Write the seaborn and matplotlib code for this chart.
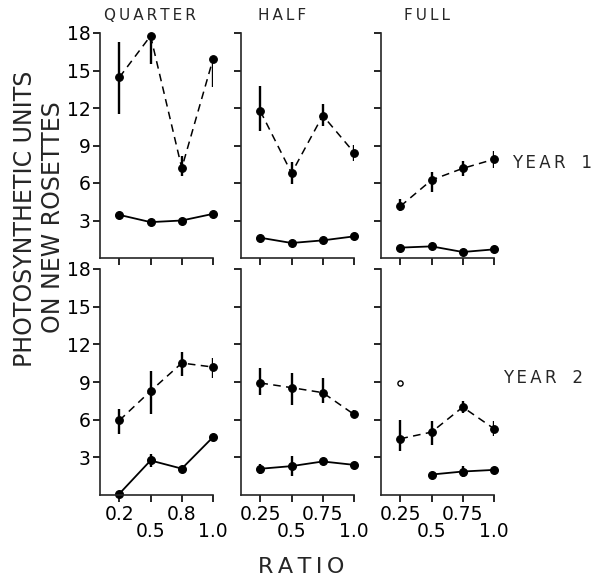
import numpy as np
import pandas as pd
import matplotlib
matplotlib.use("Agg")
import matplotlib.pyplot as plt
import seaborn as sns

# ---------------- data ----------------
col_titles = ["QUARTER", "HALF", "FULL"]
row_titles = ["YEAR 1", "YEAR 2"]
ratio_quarter = ["0.2", "0.5", "0.8", "1.0"]
ratio_half = ["0.25", "0.5", "0.75", "1.0"]
ratio_full = ["0.25", "0.5", "0.75", "1.0"]
y_ticks = [3, 6, 9, 12, 15, 18]

# Year 1 (dashed = upper series, solid = lower series)
y1_quarter_dash = [14.45, 17.77, 7.19, 15.9]
y1_quarter_dash_lo = [11.5, 15.5, 6.6, 13.7]
y1_quarter_dash_hi = [17.3, 17.77, 8.2, 15.9]
y1_quarter_solid = [3.45, 2.87, 3.0, 3.53]

y1_half_dash = [11.75, 6.79, 11.4, 8.44]
y1_half_dash_lo = [10.2, 5.9, 10.6, 7.8]
y1_half_dash_hi = [13.8, 7.7, 12.3, 9.05]
y1_half_solid = [1.62, 1.2, 1.41, 1.73]

y1_full_dash = [4.14, 6.24, 7.17, 7.9]
y1_full_dash_lo = [3.8, 5.26, 6.6, 7.2]
y1_full_dash_hi = [4.7, 6.9, 7.8, 8.57]
y1_full_solid = [0.83, 0.93, 0.48, 0.69]

# Year 2
y2_quarter_dash = [5.94, 8.28, 10.51, 10.19]
y2_quarter_dash_lo = [4.82, 6.47, 9.5, 9.3]
y2_quarter_dash_hi = [6.87, 9.85, 11.4, 10.94]
y2_quarter_solid = [0.1, 2.75, 2.1, 4.61]
y2_quarter_solid_lo = [np.nan, 2.2, np.nan, np.nan]
y2_quarter_solid_hi = [np.nan, 3.3, np.nan, np.nan]

y2_half_dash = [8.92, 8.55, 8.15, 6.42]
y2_half_dash_lo = [8.0, 7.2, 7.35, 6.1]
y2_half_dash_hi = [10.1, 9.7, 9.3, 6.8]
y2_half_solid = [2.09, 2.3, 2.67, 2.4]
y2_half_solid_lo = [1.7, 1.5, np.nan, np.nan]
y2_half_solid_hi = [2.5, 3.1, np.nan, np.nan]

y2_full_dash = [4.48, 5.01, 7.0, 5.28]
y2_full_dash_lo = [3.5, 4.0, 6.5, 4.7]
y2_full_dash_hi = [5.94, 5.9, 7.5, 5.9]
y2_full_solid = [np.nan, 1.63, 1.87, 2.0]
y2_full_solid_lo = [np.nan, np.nan, 1.45, np.nan]
y2_full_solid_hi = [np.nan, np.nan, 2.3, np.nan]
y2_full_open_ratio = "0.25"
y2_full_open_value = 8.92

# ---------------- style ----------------
sns.set_style("ticks")
plt.rcParams["font.family"] = ["DejaVu Sans"]
plt.rcParams["axes.linewidth"] = 1.2

fig = plt.figure(figsize=(5.94, 5.81), dpi=100)

W, H = 594.0, 581.0
lefts = [100, 241, 381]
width = 113
row_top = [33, 269]
row_bottom = [258, 495]

panels = [
    # row 0
    [(ratio_quarter, y1_quarter_dash, y1_quarter_dash_lo, y1_quarter_dash_hi, y1_quarter_solid, None, None),
     (ratio_half, y1_half_dash, y1_half_dash_lo, y1_half_dash_hi, y1_half_solid, None, None),
     (ratio_full, y1_full_dash, y1_full_dash_lo, y1_full_dash_hi, y1_full_solid, None, None)],
    # row 1
    [(ratio_quarter, y2_quarter_dash, y2_quarter_dash_lo, y2_quarter_dash_hi, y2_quarter_solid, y2_quarter_solid_lo, y2_quarter_solid_hi),
     (ratio_half, y2_half_dash, y2_half_dash_lo, y2_half_dash_hi, y2_half_solid, y2_half_solid_lo, y2_half_solid_hi),
     (ratio_full, y2_full_dash, y2_full_dash_lo, y2_full_dash_hi, y2_full_solid, y2_full_solid_lo, y2_full_solid_hi)],
]

def sp(s):
    return "\u2009".join(list(s))

for r in range(2):
    for c in range(3):
        ratios, dash, dlo, dhi, solid, slo, shi = panels[r][c]
        ax = fig.add_axes([lefts[c] / W, 1 - row_bottom[r] / H, width / W,
                           (row_bottom[r] - row_top[r]) / H])
        df_d = pd.DataFrame({"ratio": ratios, "value": dash}).dropna()
        df_s = pd.DataFrame({"ratio": ratios, "value": solid}).dropna()
        sns.pointplot(data=df_d, x="ratio", y="value", order=ratios, color="black",
                      errorbar=None, ax=ax, linestyle=(0, (5, 3.5)), marker="o",
                      markersize=5.5, linewidth=1.1)
        sns.pointplot(data=df_s, x="ratio", y="value", order=ratios, color="black",
                      errorbar=None, ax=ax, linestyle="-", marker="o",
                      markersize=5.5, linewidth=1.3)
        for ln in ax.lines:
            ln.set_clip_on(False)
        pos = np.arange(len(ratios))
        ax.vlines(pos, dlo, dhi, color="black", linewidth=1.7)
        if slo is not None:
            ax.vlines(pos, slo, shi, color="black", linewidth=1.7)
        if r == 1 and c == 2:
            ax.scatter([ratios.index(y2_full_open_ratio)], [y2_full_open_value], s=14,
                       facecolor="white", edgecolor="black", linewidth=1.0, zorder=5)

        ax.set_ylim(0, 18)
        ax.set_xlim(-0.62, 3.0)
        ax.set_yticks(y_ticks)
        ax.set_yticklabels([str(t) for t in y_ticks])
        ax.set_xticks(pos)
        ax.set_xticklabels(ratios)
        ax.set_xlabel("")
        ax.set_ylabel("")
        sns.despine(ax=ax)
        ax.tick_params(direction="out", length=5, width=1.2, labelsize=13.5, pad=2,
                       colors="black")
        # staggered x tick labels: every second label one line lower
        for i, tick in enumerate(ax.xaxis.get_major_ticks()):
            tick.set_pad(2 if i % 2 == 0 else 14.5)
        if c != 0:
            ax.tick_params(labelleft=False)
        if r == 0:
            ax.tick_params(labelbottom=False)
        ax.grid(False)

# column titles
for c, (title, xc) in enumerate(zip(col_titles, [150, 282, 427])):
    fig.text(xc / W, 1 - 15 / H, sp(title), ha="center", va="center", fontsize=11)

# row titles
fig.text(512 / W, 1 - 163 / H, sp("YEAR") + "   1", ha="left", va="center", fontsize=12)
fig.text(503 / W, 1 - 378 / H, sp("YEAR") + "   2", ha="left", va="center", fontsize=12)

# y label (two lines)
fig.text(25 / W, 1 - 219 / H, "PHOTOSYNTHETIC UNITS", rotation=90, ha="center",
         va="center", fontsize=17)
fig.text(53 / W, 1 - 217 / H, "ON NEW ROSETTES", rotation=90, ha="center",
         va="center", fontsize=17)

# x label
fig.text(301 / W, 1 - 567 / H, sp("RATIO"), ha="center", va="center", fontsize=16)

fig.savefig("out.png", dpi=100, facecolor="white")
